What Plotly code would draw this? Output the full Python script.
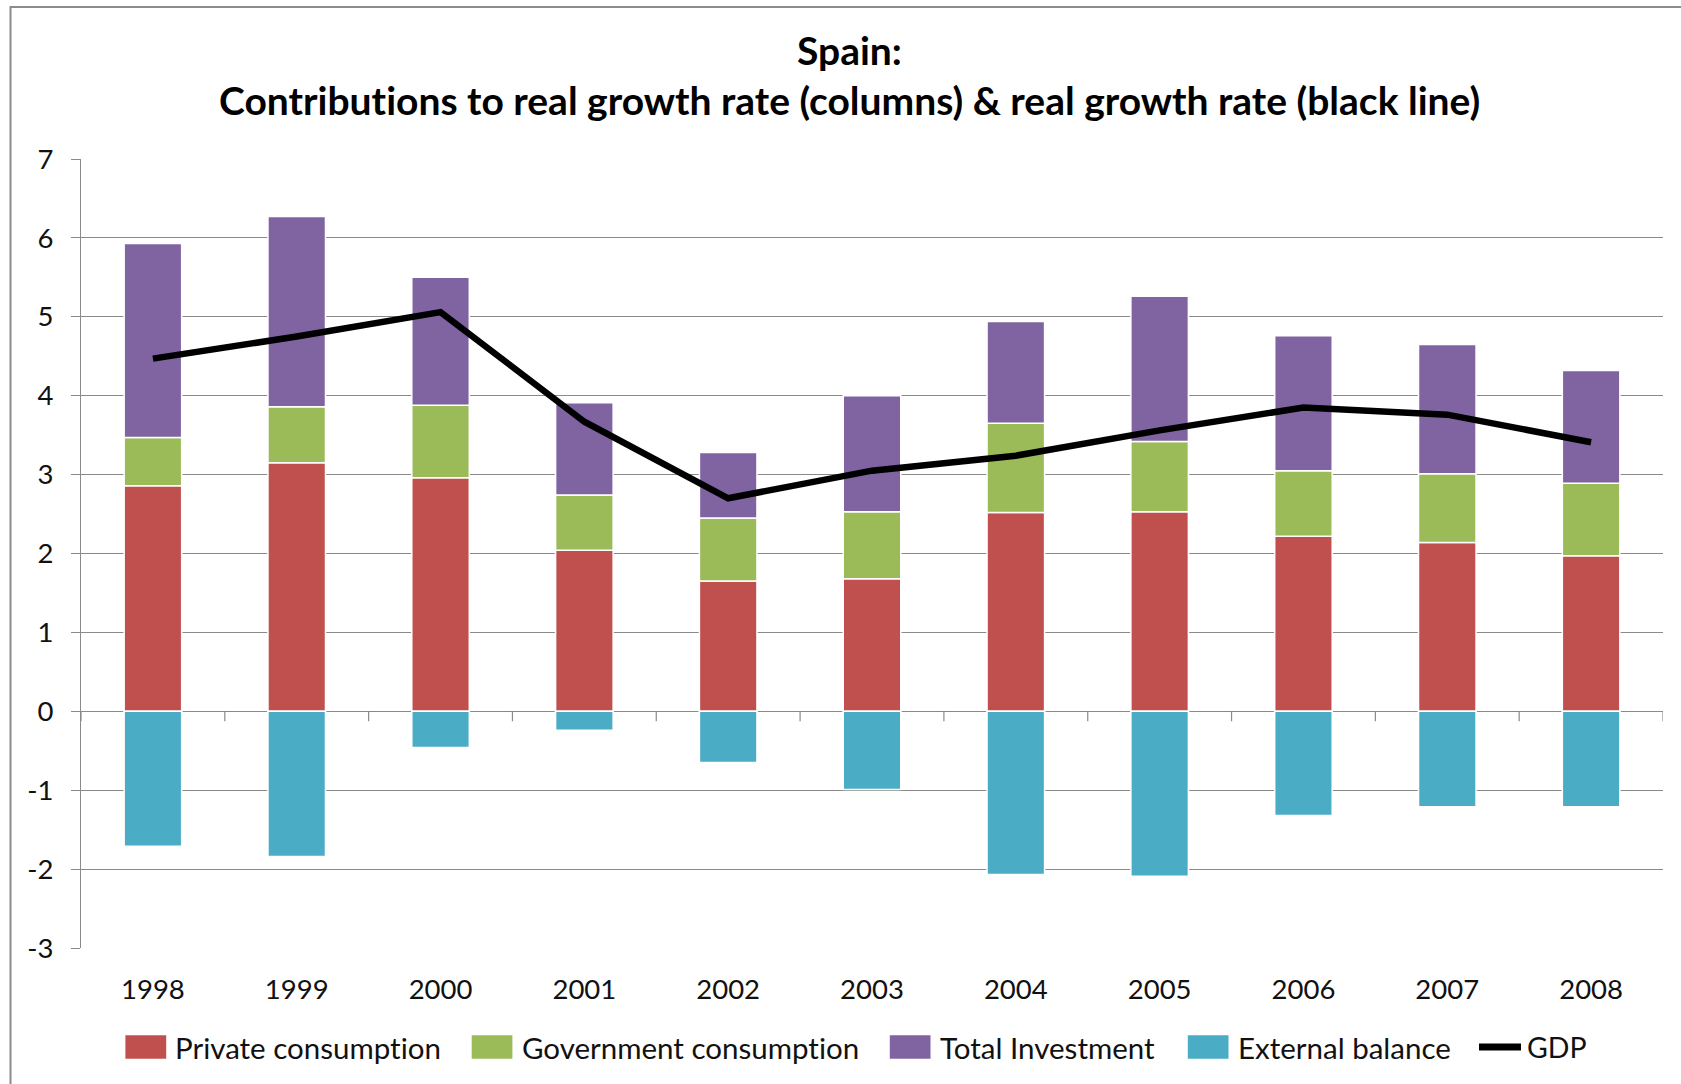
import plotly.graph_objects as go

# Contributions to Spain's real GDP growth, percentage points
years = ["1998", "1999", "2000", "2001", "2002", "2003", "2004", "2005", "2006", "2007", "2008"]
private_consumption = [2.86, 3.15, 2.96, 2.04, 1.65, 1.68, 2.52, 2.53, 2.22, 2.14, 1.97]
government_consumption = [0.61, 0.71, 0.92, 0.70, 0.80, 0.85, 1.13, 0.89, 0.83, 0.87, 0.92]
total_investment = [2.46, 2.41, 1.62, 1.17, 0.83, 1.47, 1.29, 1.84, 1.71, 1.64, 1.43]
external_balance = [-1.71, -1.84, -0.46, -0.24, -0.65, -0.99, -2.07, -2.09, -1.32, -1.21, -1.21]
gdp_growth = [4.47, 4.75, 5.06, 3.67, 2.70, 3.05, 3.24, 3.56, 3.85, 3.76, 3.41]

y_ticks = [-3, -2, -1, 0, 1, 2, 3, 4, 5, 6, 7]

FONT = "Lato"
GRID = "#8a8a8a"
W, H = 1681, 1084
L, R, T, B = 81, 18, 159, 136
PW, PH = W - L - R, H - T - B


def px_x(px):
    return (px - L) / PW


def px_y(py):
    return (H - B - py) / PH


def no_lig(s):
    # keep Lato from fusing "ti" into a ligature glyph
    return s.replace("ti", "t\u200ci")


series = [
    ("Private consumption", private_consumption, "#C0504D"),
    ("Government consumption", government_consumption, "#9BBB59"),
    ("Total Investment", total_investment, "#8064A2"),
    ("External balance", external_balance, "#4BACC6"),
]

fig = go.Figure()
for name, vals, color in series:
    fig.add_trace(go.Bar(
        x=years, y=vals, name=name,
        marker=dict(color=color, line=dict(color="white", width=1.5)),
        showlegend=False,
    ))

fig.add_trace(go.Scatter(
    x=years, y=gdp_growth, name="GDP", mode="lines",
    line=dict(color="black", width=6.5),
    showlegend=False,
))

# small category-boundary ticks hanging below the zero line
for i in range(len(years) + 1):
    fig.add_shape(type="line", xref="x", yref="y", ysizemode="pixel", yanchor=0,
                  x0=i - 0.5, x1=i - 0.5, y0=0, y1=-10,
                  line=dict(color=GRID, width=1.2))

# legend drawn beneath the plot
legend_y = px_y(1047)
sw_h = 23.6 / PH
legend_items = [
    (125.4, 166.2, 173.0, 0),
    (471.7, 512.4, 519.5, 1),
    (889.8, 930.5, 937.5, 2),
    (1187.8, 1228.5, 1235.5, 3),
]
for x0, x1, tx, idx in legend_items:
    name, _, color = series[idx]
    fig.add_shape(type="rect", xref="paper", yref="paper",
                  x0=px_x(x0), x1=px_x(x1), y0=legend_y - sw_h / 2, y1=legend_y + sw_h / 2,
                  fillcolor=color, line=dict(width=0))
    fig.add_annotation(xref="paper", yref="paper", x=px_x(tx), y=legend_y,
                       text=no_lig(name), showarrow=False, xanchor="left", yanchor="middle",
                       font=dict(family=FONT, size=29.5, color="#111111"))
fig.add_shape(type="line", xref="paper", yref="paper",
              x0=px_x(1479), x1=px_x(1521), y0=legend_y, y1=legend_y,
              line=dict(color="black", width=7))
fig.add_annotation(xref="paper", yref="paper", x=px_x(1525), y=legend_y,
                   text="GDP", showarrow=False, xanchor="left", yanchor="middle",
                   font=dict(family=FONT, size=28.5, color="#111111"))

# two-line title
fig.add_annotation(xref="paper", yref="paper", x=px_x(849), y=px_y(50),
                   text="<b>Spain:</b>", showarrow=False, xanchor="center", yanchor="middle",
                   font=dict(family=FONT, size=39, color="black"))
fig.add_annotation(xref="paper", yref="paper", x=px_x(849), y=px_y(100),
                   text="<b>" + no_lig("Contributions to real growth rate (columns) & real growth rate (black line)") + "</b>",
                   showarrow=False, xanchor="center", yanchor="middle",
                   font=dict(family=FONT, size=39, color="black"))

# outer chart frame
fig.add_shape(type="rect", xref="paper", yref="paper",
              x0=px_x(10.5), x1=px_x(W + 20), y0=px_y(7), y1=px_y(H + 20),
              line=dict(color="#8c8c8c", width=2), fillcolor="rgba(0,0,0,0)", layer="below")

fig.update_layout(
    width=W, height=H,
    margin=dict(l=L, r=R, t=T, b=B, pad=0),
    barmode="relative",
    bargap=0.6,
    plot_bgcolor="white",
    paper_bgcolor="white",
    font=dict(family=FONT, color="#111111"),
    xaxis=dict(
        type="category", categoryorder="array", categoryarray=years,
        range=[-0.5, len(years) - 0.5],
        showgrid=False, showline=False, ticks="", zeroline=False,
        tickfont=dict(family=FONT, size=27.5, color="#111111"),
        ticklabelstandoff=22,
    ),
    yaxis=dict(
        range=[-3, 7], tickvals=y_ticks, ticktext=[str(v) for v in y_ticks],
        showgrid=True, gridcolor=GRID, gridwidth=1.2,
        zeroline=False,
        showline=True, linecolor=GRID, linewidth=1.2,
        ticks="outside", ticklen=9, tickcolor=GRID, tickwidth=1.2,
        tickfont=dict(family=FONT, size=27.5, color="#111111"),
        ticklabelstandoff=12,
    ),
)

fig.write_html("out.html")
